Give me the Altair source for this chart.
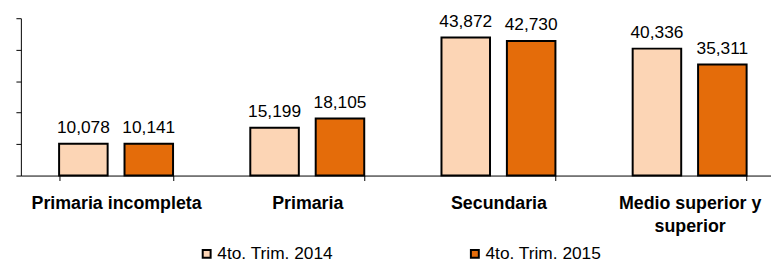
import altair as alt
import pandas as pd

categories = ["Primaria incompleta", "Primaria", "Secundaria", "Medio superior y superior"]
series = ["4to. Trim. 2014", "4to. Trim. 2015"]
values_2014 = [10078, 15199, 43872, 40336]
values_2015 = [10141, 18105, 42730, 35311]
y_ticks = [0, 10000, 20000, 30000, 40000, 50000]
colors = ["#FCD5B5", "#E46C0A"]

rows = []
for c, a, b in zip(categories, values_2014, values_2015):
    rows.append({"cat": c, "serie": series[0], "val": a})
    rows.append({"cat": c, "serie": series[1], "val": b})
df = pd.DataFrame(rows)

FONT = "Liberation Sans"

x_enc = alt.X(
    "cat:N",
    sort=categories,
    scale=alt.Scale(paddingInner=0.404),
    axis=alt.Axis(
        title=None,
        tickBand="extent",
        labelAngle=0,
        labelFont=FONT,
        labelFontSize=18,
        labelFontWeight="bold",
        labelColor="black",
        labelPadding=14,
        labelLimit=400,
        labelLineHeight=24,
        labelExpr="datum.value == 'Medio superior y superior' ? ['Medio superior y', 'superior'] : datum.value",
        domainColor="black",
        tickColor="black",
        tickSize=5,
        domainWidth=1,
        tickWidth=1,
    ),
)
xo_enc = alt.XOffset("serie:N", sort=series, scale=alt.Scale(paddingInner=0.258, paddingOuter=0))
y_enc = alt.Y(
    "val:Q",
    scale=alt.Scale(domain=[0, 50000], nice=False),
    axis=alt.Axis(
        title=None,
        values=y_ticks,
        labels=False,
        grid=False,
        domainColor="black",
        tickColor="black",
        tickSize=5,
    ),
)

bars = alt.Chart(df).mark_bar(stroke="black", strokeWidth=2).encode(
    x=x_enc,
    xOffset=xo_enc,
    y=y_enc,
    fill=alt.Fill(
        "serie:N",
        sort=series,
        scale=alt.Scale(domain=series, range=colors),
        legend=alt.Legend(
            title=None,
            orient="none",
            direction="horizontal",
            legendX=179,
            legendY=229,
            symbolType="square",
            symbolSize=64,
            symbolStrokeColor="black",
            symbolStrokeWidth=2,
            symbolOpacity=1,
            labelFont=FONT,
            labelFontSize=17.5,
            labelColor="black",
            labelOffset=2,
            columnPadding=134,
            padding=0,
        ),
    ),
)

text = alt.Chart(df).mark_text(
    baseline="alphabetic", dy=-11, font=FONT, fontSize=17.5, color="black"
).encode(
    x=x_enc,
    xOffset=xo_enc,
    y=y_enc,
    text=alt.Text("val:Q", format=",.0f"),
)

chart = (
    alt.layer(bars, text)
    .properties(
        width=772,
        height=159,
        autosize=alt.AutoSizeParams(type="none"),
        padding={"left": 13, "top": 9, "right": -14, "bottom": 84},
    )
    .configure_view(stroke=None)
)

chart.save("out.html", embed_options={"renderer": "svg", "actions": False})
